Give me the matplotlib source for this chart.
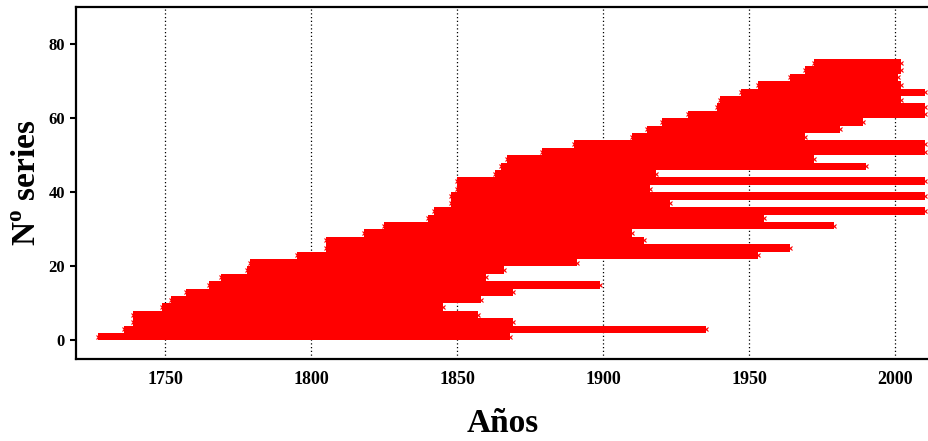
import numpy as np
from matplotlib import pyplot as plt

# series number (y) and first / last year of each series
series_no = [1, 3, 5, 7, 9, 11, 13, 15, 17, 19, 21, 23, 25, 27, 29, 31, 33, 35, 37,
             39, 41, 43, 45, 47, 49, 51, 53, 55, 57, 59, 61, 63, 65, 67, 69, 71, 73, 75]
start_year = [1727, 1736, 1739, 1739, 1749, 1752, 1757, 1765, 1769, 1778, 1779, 1795, 1805,
              1805, 1818, 1825, 1840, 1842, 1848, 1848, 1850, 1850, 1863, 1865, 1867, 1879,
              1890, 1910, 1915, 1920, 1929, 1939, 1940, 1947, 1953, 1964, 1969, 1972]
end_year = [1868, 1935, 1869, 1857, 1845, 1858, 1869, 1899, 1860, 1866, 1891, 1953, 1964,
            1914, 1910, 1979, 1955, 2010, 1923, 2010, 1916, 2010, 1918, 1990, 1972, 2010,
            2010, 1969, 1981, 1989, 2010, 2010, 2002, 2010, 2002, 2001, 2002, 2002]
xticks = [1750, 1800, 1850, 1900, 1950, 2000]
yticks = [0, 20, 40, 60, 80]

plt.rcParams['font.family'] = ['Liberation Serif', 'DejaVu Serif']
plt.rcParams['font.weight'] = 'bold'
plt.rcParams['mathtext.fontset'] = 'custom'
plt.rcParams['mathtext.rm'] = 'Liberation Serif:bold'
plt.rcParams['mathtext.bf'] = 'Liberation Serif:bold'

fig = plt.figure(figsize=(9.29, 4.41), dpi=100)
ax = fig.add_axes([0.0818, 0.186, 0.9182, 0.798])

s = np.array(start_year)
e = np.array(end_year)
y = np.array(series_no)

ax.barh(y, e - s, left=s, height=2.0, color='#ff0000', linewidth=0, zorder=2)
ax.plot(s, y, 'x', color='#ff0000', ms=3, mew=0.8, zorder=3)
ax.plot(e, y, 'x', color='#ff0000', ms=3, mew=0.8, zorder=3)

ax.set_xlim(1719.5, 2011.5)
ax.set_ylim(-5, 90)
ax.set_xticks(xticks)
ax.set_yticks(yticks)
ax.grid(axis='x', color='black', linestyle=(0, (1, 2)), linewidth=0.9, zorder=0)

for side in ['left', 'bottom', 'top']:
    ax.spines[side].set_linewidth(1.6)
ax.spines['right'].set_visible(False)

ax.tick_params(axis='y', direction='out', length=4, width=1.5, labelsize=12, pad=4)
ax.tick_params(axis='x', length=0, labelsize=13, pad=9)
for lbl in ax.get_xticklabels() + ax.get_yticklabels():
    lbl.set_fontweight('bold')

ax.set_xlabel('Años', fontsize=24, fontweight='bold', labelpad=14)
ax.set_ylabel(r'N$^{\mathbf{o}}$ series', fontsize=24, fontweight='bold', labelpad=4)

fig.savefig('out.png', dpi=100)
